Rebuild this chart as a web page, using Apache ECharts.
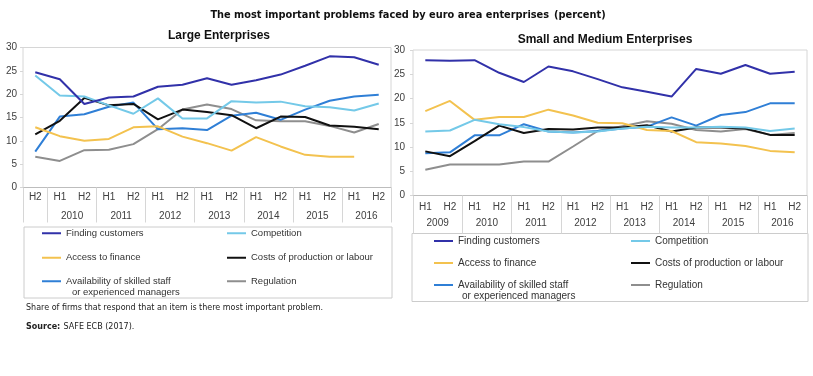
<!DOCTYPE html>
<html>
<head>
<meta charset="utf-8">
<script src="https://cdn.jsdelivr.net/npm/echarts@6/dist/echarts.min.js"></script>
<style>
html,body{margin:0;padding:0;background:#fff;}
#chart{width:813px;height:376px;}
</style>
</head>
<body>
<div id="chart"></div>
<script>
// ---- data ----
var largeCats = ['H2','H1','H2','H1','H2','H1','H2','H1','H2','H1','H2','H1','H2','H1','H2'];
var largeYears = ['2010','2011','2012','2013','2014','2015','2016'];
var smeCats = ['H1','H2','H1','H2','H1','H2','H1','H2','H1','H2','H1','H2','H1','H2','H1','H2'];
var smeYears = ['2009','2010','2011','2012','2013','2014','2015','2016'];

var seriesNames = ['Finding customers','Competition','Access to finance',
  'Costs of production or labour','Availability of skilled staff\n or experienced managers','Regulation'];
var seriesColors = ['#3131a9','#74c9e8','#f3c24f','#111111','#2f7fd6','#8e8e8e'];

// large enterprises
var largeFinding = [24.7,23.2,17.9,19.3,19.5,21.6,22.0,23.4,22.0,23.0,24.2,26.1,28.1,27.9,26.3];
var largeCompetition = [24.0,19.7,19.5,17.6,15.8,19.1,14.8,14.8,18.5,18.2,18.4,17.4,17.2,16.5,18.0];
var largeFinance = [12.9,11.0,10.0,10.4,12.9,13.1,10.9,9.5,7.9,10.8,8.8,7.0,6.6,6.6,null];
var largeCosts = [11.4,14.3,19.2,17.6,17.9,14.6,16.7,16.2,15.5,12.7,15.2,15.1,13.3,13.0,12.5];
var largeSkilled = [7.7,15.2,15.7,17.3,18.2,12.5,12.7,12.3,15.4,16.0,14.5,16.7,18.6,19.5,19.9];
var largeRegulation = [6.6,5.7,8.0,8.1,9.3,12.5,16.7,17.8,16.8,14.4,14.2,14.2,13.2,11.8,13.6];

// small and medium enterprises
var smeFinding = [27.9,27.8,27.9,25.3,23.4,26.6,25.6,24.0,22.3,21.4,20.4,26.1,25.1,26.9,25.1,25.5];
var smeCompetition = [13.2,13.4,15.6,14.7,14.1,13.2,13.0,13.2,13.8,14.2,14.0,14.0,14.2,14.0,13.3,13.8];
var smeFinance = [17.4,19.5,15.6,16.2,16.2,17.7,16.5,15.0,14.9,13.5,13.3,11.0,10.7,10.2,9.2,8.9];
var smeCosts = [9.1,8.1,11.2,14.4,12.9,13.7,13.6,14.0,14.0,14.5,13.2,14.0,14.0,13.8,12.5,12.5];
var smeSkilled = [8.7,8.9,12.4,12.4,14.7,13.2,13.0,13.3,13.8,14.2,16.1,14.4,16.6,17.2,19.0,19.0];
var smeRegulation = [5.3,6.4,6.4,6.4,7.0,7.0,10.1,13.3,14.3,15.3,14.8,13.5,13.2,13.7,12.5,12.9];

var largeData = [largeFinding,largeCompetition,largeFinance,largeCosts,largeSkilled,largeRegulation];
var smeData = [smeFinding,smeCompetition,smeFinance,smeCosts,smeSkilled,smeRegulation];

// ---- chart ----
var font = 'Liberation Sans, Arial, sans-serif';
var labelColor = '#404040';
var frameColor = '#d6d6d6';

function catAxis(grid, cats, tickLen, margin) {
  return {
    type: 'category', gridIndex: grid, data: cats, position: 'bottom', boundaryGap: true,
    axisLine: {lineStyle: {color: '#bdbdbd'}},
    axisTick: {interval: 0, length: tickLen, lineStyle: {color: frameColor}},
    axisLabel: {interval: 0, margin: margin, fontSize: 10, color: labelColor, fontFamily: font}
  };
}
function yearAxis(grid, n, ticks, labels, years, first, tickLen, margin) {
  return {
    type: 'value', gridIndex: grid, min: 0, max: n, position: 'bottom',
    axisLine: {show: false}, splitLine: {show: false},
    axisTick: {show: true, customValues: ticks, length: tickLen, lineStyle: {color: frameColor}},
    axisLabel: {customValues: labels, margin: margin, fontSize: 10, color: labelColor, fontFamily: font,
      formatter: function (v) { return years[Math.round((v - first) / 2)]; }}
  };
}
function valAxis(grid, margin) {
  return {
    type: 'value', gridIndex: grid, min: 0, max: 30, interval: 5, position: 'left',
    axisLine: {show: false}, splitLine: {show: false},
    axisTick: {show: true, length: 3, lineStyle: {color: frameColor}},
    axisLabel: {margin: margin, fontSize: 10, color: labelColor, fontFamily: font}
  };
}

var series = [];
seriesNames.forEach(function (name, i) {
  series.push({name: name, type: 'line', xAxisIndex: 0, yAxisIndex: 0, data: largeData[i],
    symbol: 'none', lineStyle: {width: 2, color: seriesColors[i]}, itemStyle: {color: seriesColors[i]}, z: 10 - i});
  series.push({name: name, type: 'line', xAxisIndex: 2, yAxisIndex: 1, data: smeData[i],
    symbol: 'none', lineStyle: {width: 2, color: seriesColors[i]}, itemStyle: {color: seriesColors[i]}, z: 10 - i});
});

// one legend per entry so it can sit in two columns
var legends = [];
function addLegends(cols, rows, size) {
  seriesNames.forEach(function (name, i) {
    legends.push({
      data: [name], left: cols[i % 2], top: rows[Math.floor(i / 2)] - size / 2,
      orient: 'horizontal', padding: 0, icon: 'rect', itemWidth: 19, itemHeight: 2,
      selectedMode: false,
      textStyle: {fontSize: size, color: '#333', fontFamily: font},
      formatter: function (n) { return n.split('\n')[0]; }
    });
  });
}
addLegends([42, 227], [233, 257.5, 281], 9.5);
addLegends([434, 631], [241, 263, 285], 10);

var option = {
  animation: false,
  backgroundColor: '#fff',
  title: [
    {text: '{b|The most important problems faced by euro area enterprises} {n|(percent)}',
      left: 403, top: 1, textAlign: 'center',
      textStyle: {rich: {
        b: {fontFamily: 'DejaVu Sans', fontWeight: 'bold', fontSize: 9.8, color: '#111'},
        n: {fontFamily: 'DejaVu Sans', fontSize: 9.8, color: '#111'}}}},
    {text: 'Large Enterprises', left: 214, top: 25, textAlign: 'center',
      textStyle: {fontFamily: font, fontWeight: 'bold', fontSize: 12, color: '#111'}},
    {text: 'Small and Medium Enterprises', left: 600, top: 29, textAlign: 'center',
      textStyle: {fontFamily: font, fontWeight: 'bold', fontSize: 12, color: '#111'}}
  ],
  legend: legends,
  grid: [
    {left: 23, top: 47.5, width: 368, height: 140, show: true, borderColor: frameColor, borderWidth: 1},
    {left: 413, top: 50, width: 394, height: 145.5, show: true, borderColor: frameColor, borderWidth: 1}
  ],
  xAxis: [
    catAxis(0, largeCats, 16, 5),
    yearAxis(0, 15, [0,1,3,5,7,9,11,13,15], [2,4,6,8,10,12,14], largeYears, 2, 35, 24),
    catAxis(1, smeCats, 20, 7),
    yearAxis(1, 16, [0,2,4,6,8,10,12,14,16], [1,3,5,7,9,11,13,15], smeYears, 1, 38, 23)
  ],
  yAxis: [
    valAxis(0, 6),
    valAxis(1, 8)
  ],
  series: series,
  graphic: [
    {type: 'rect', shape: {x: 24, y: 227, width: 368, height: 71}, silent: true,
      style: {fill: 'none', stroke: '#cccccc', lineWidth: 1}},
    {type: 'rect', shape: {x: 412, y: 233.5, width: 396, height: 68}, silent: true,
      style: {fill: 'none', stroke: '#cccccc', lineWidth: 1}},
    {type: 'text', left: 72, top: 287, silent: true,
      style: {text: 'or experienced managers', fontSize: 9.5, fill: '#333', fontFamily: font}},
    {type: 'text', left: 462, top: 291, silent: true,
      style: {text: 'or experienced managers', fontSize: 10, fill: '#333', fontFamily: font}},
    {type: 'text', left: 26, top: 304, silent: true,
      style: {text: 'Share of firms that respond that an item is there most important problem.',
        fontSize: 8, fill: '#222', fontFamily: 'DejaVu Sans'}},
    {type: 'text', left: 26, top: 321, silent: true,
      style: {rich: {b: {fontWeight: 'bold', fontSize: 8, fontFamily: 'DejaVu Sans', fill: '#222'},
        n: {fontSize: 8, fontFamily: 'DejaVu Sans', fill: '#222'}},
        text: '{b|Source:} {n|SAFE ECB (2017).}'}}
  ]
};

var chart = echarts.init(document.getElementById('chart'));
chart.setOption(option);
</script>
</body>
</html>
